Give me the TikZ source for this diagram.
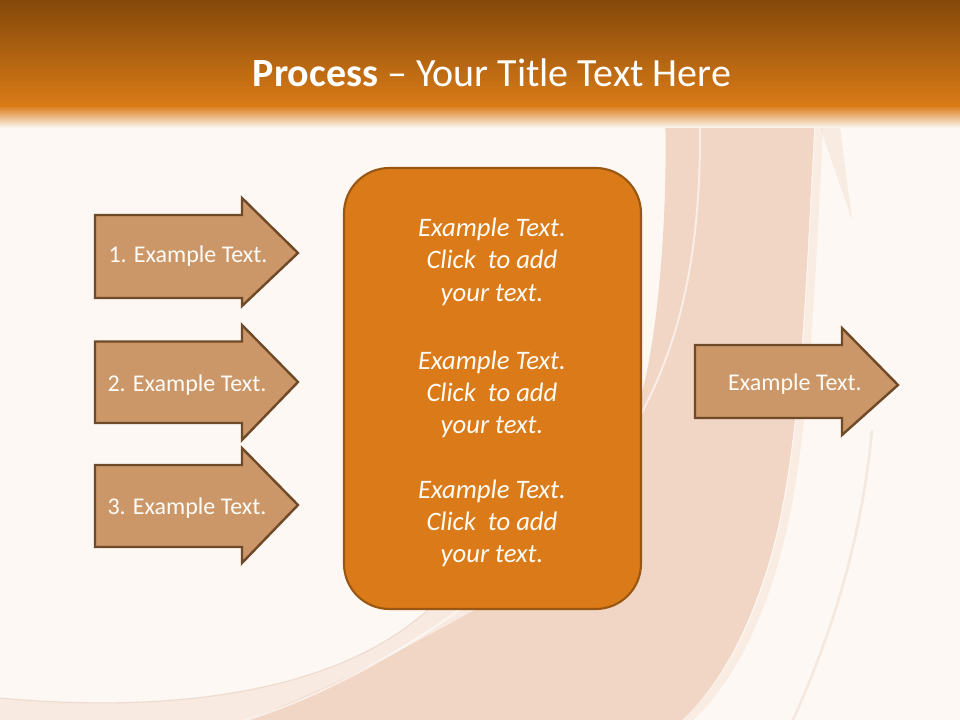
\documentclass[tikz,border=0pt]{standalone}
\usepackage{fontspec}
\setmainfont{Carlito}
\definecolor{bgcream}{HTML}{FDF8F3}
\definecolor{bandpink}{HTML}{F1D5C5}
\definecolor{bandedge}{HTML}{F7E2D5}
\definecolor{sliver}{HTML}{F8EAE1}
\definecolor{faintline}{HTML}{EBD5C8}
\definecolor{titletop}{HTML}{84480A}
\definecolor{titlebot}{HTML}{D97B17}
\definecolor{arrowfill}{HTML}{CB9668}
\definecolor{arrowborder}{HTML}{6F4A29}
\definecolor{boxfill}{HTML}{DA7A18}
\definecolor{boxborder}{HTML}{9A5713}
\definecolor{txtwhite}{HTML}{FFFCF7}
\tikzset{
  arrowbox/.style={draw=arrowborder, fill=arrowfill, line width=1.8pt, line join=miter},
  arrowtext/.style={text=txtwhite, font=\fontsize{18}{22}\selectfont, inner sep=0pt, anchor=base},
  centerbox/.style={draw=boxborder, fill=boxfill, line width=1.6pt, rounded corners=34pt,
     minimum width=222.75pt, minimum height=330.75pt, inner sep=0pt},
  centertext/.style={text=txtwhite, font=\fontsize{20}{24.4}\selectfont\itshape, inner sep=0pt, anchor=base},
  titletext/.style={text=white, font=\fontsize{30}{36}\selectfont, inner sep=0pt, anchor=base}
}
% #1 left x, #2 body top, #3 body bottom, #4 head top, #5 tip y, #6 head bottom
\newcommand{\procarrow}[6]{%
  \draw[arrowbox] (#1,#2) -- (#1+147,#2) -- (#1+147,#4) -- (#1+203,#5)
     -- (#1+147,#6) -- (#1+147,#3) -- (#1,#3) -- cycle;}
\begin{document}
\begin{tikzpicture}[x=0.75pt,y=-0.75pt]
\useasboundingbox (0,0) rectangle (960,720);
% background
\fill[bgcream] (0,0) rectangle (960,720);
% swirl band
\fill[bandpink] (665,112) -- (815,112) .. controls (805,300) and (800,460) .. (768,565)
   .. controls (745,640) and (715,690) .. (680,722) -- (240,722)
   .. controls (420,640) and (600,520) .. (640,400)
   .. controls (660,330) and (668,200) .. (665,112) -- cycle;
\draw[bandedge, line width=6pt, opacity=.5] (820,112) .. controls (810,300) and (805,460) .. (773,567)
   .. controls (750,642) and (720,692) .. (685,722);
\fill[bandpink, opacity=.35] (815,112) -- (838,112) -- (852,220) -- cycle;
\fill[sliver] (430,608) .. controls (330,700) and (150,712) .. (0,698) -- (0,722) -- (240,722)
   .. controls (330,690) and (420,640) .. (478,608) -- cycle;
\draw[faintline, line width=0.8pt, opacity=.8] (430,608) .. controls (330,700) and (150,712) .. (0,698);
\draw[white, line width=1.5pt, opacity=.6] (700,116) .. controls (702,280) and (672,380) .. (600,480)
   .. controls (530,570) and (380,680) .. (240,722);
\draw[faintline, line width=2pt, opacity=.45] (872,430) .. controls (860,560) and (820,660) .. (792,722);
% title band
\shade[top color=titletop, bottom color=titlebot] (0,0) rectangle (960,106);
\shade[top color=titlebot, bottom color=bgcream] (0,105.5) rectangle (960,128);
\node[titletext] (title) at (492,87) {\textbf{Process} – Your Title Text Here};
% left arrows
\procarrow{95}{215}{298}{198}{253}{306}
\procarrow{95}{341.5}{423}{325}{382}{440}
\procarrow{95}{465}{547}{448}{505}{563}
\node[arrowtext] (a1) at (188,263) {1. Example Text.};
\node[arrowtext] (a2) at (187,391) {2. Example Text.};
\node[arrowtext] (a3) at (187,514) {3. Example Text.};
% right arrow
\procarrow{695}{345}{418}{328}{385}{435}
\node[arrowtext] (out) at (795,390) {Example Text.};
% center box
\node[centerbox] (box) at (492.5,388.5) {};
\node[centertext] (c1) at (492,237) {Example Text.};
\node[centertext] (c2) at (492,269) {Click~ to add};
\node[centertext] (c3) at (492,301) {your text.};
\node[centertext] (c4) at (492,369) {Example Text.};
\node[centertext] (c5) at (492,401) {Click~ to add};
\node[centertext] (c6) at (492,433) {your text.};
\node[centertext] (c7) at (492,498) {Example Text.};
\node[centertext] (c8) at (492,530) {Click~ to add};
\node[centertext] (c9) at (492,562) {your text.};
\end{tikzpicture}
\end{document}
